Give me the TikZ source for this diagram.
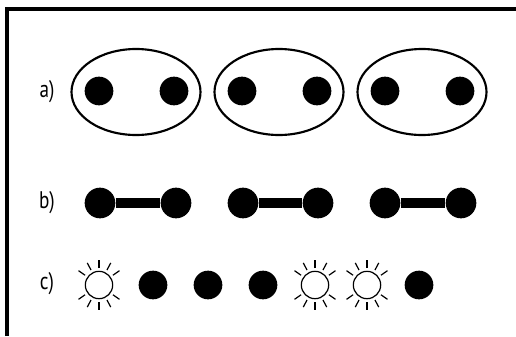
\documentclass[tikz,border=0pt]{standalone}
\usepackage{fontspec}
\setmainfont{PT Sans}
\begin{document}
\begin{tikzpicture}[x=0.75pt,y=-0.75pt,
  dot/.style={circle,fill=black,inner sep=0pt,minimum size=21.5pt},
  glow/.style={circle,draw=black,line width=0.9pt,fill=white,inner sep=0pt,minimum size=20.5pt},
  lbl/.style={font=\fontsize{18}{20}\selectfont,inner sep=0pt},
  bond/.style={line width=8pt},
  ray/.style={line width=0.9pt}]
\useasboundingbox (0,0) rectangle (516,336);
\draw[line width=2.4pt] (7,336) -- (7,9) -- (516,9);
% labels
\node[lbl] (la) at (47,92) {\scalebox{0.8}[1]{a)}};
\node[lbl] (lb) at (47,203) {\scalebox{0.8}[1]{b)}};
\node[lbl] (lc) at (47,284) {\scalebox{0.8}[1]{c)}};
% row a
\foreach \c [count=\i] in {136,279,422}{
  \draw[line width=1.6pt] (\c,92) ellipse [x radius=64.5, y radius=43];
  \node[dot] (a\i l) at (\c-37,91) {};
  \node[dot] (a\i r) at (\c+38,91) {};
}
% row b
\foreach \x/\y [count=\i] in {100/176,243/318,385/461}{
  \node[dot,minimum size=23pt] (b\i l) at (\x,203) {};
  \node[dot,minimum size=23pt] (b\i r) at (\y,203) {};
  \draw[bond] (b\i l) -- (b\i r);
}
% row c
\node[dot] (c2) at (153,285) {};
\node[dot] (c3) at (208,285) {};
\node[dot] (c4) at (263,285) {};
\node[dot] (c7) at (419,285) {};
\foreach \x [count=\i] in {99,315,367}{
  \node[glow] (g\i) at (\x,285) {};
  \foreach \a in {35,62,90,118,145}{
    \draw[ray] (g\i.center) ++(\a:17) -- ++(\a:8);
    \draw[ray] (g\i.center) ++(-\a:17) -- ++(-\a:8);
  }
}
\end{tikzpicture}
\end{document}
